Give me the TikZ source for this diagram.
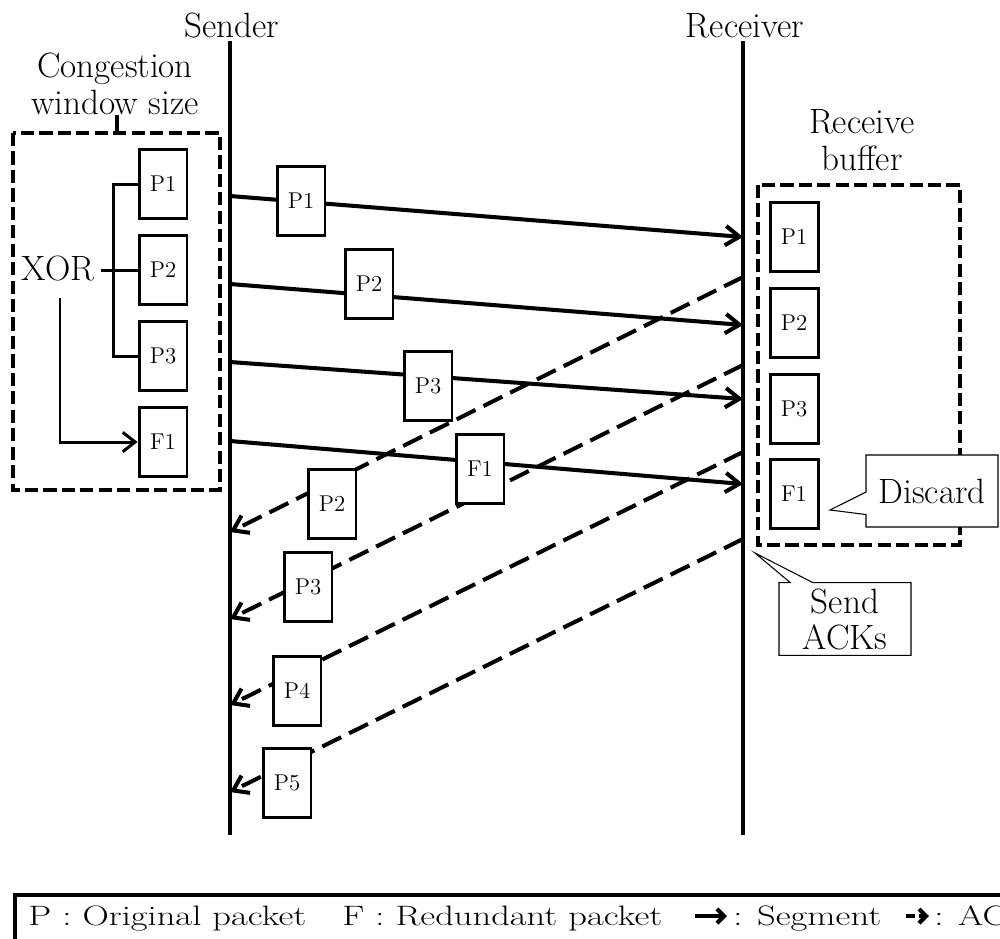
\documentclass[tikz,border=0pt]{standalone}
\usepackage{tikz}
\usetikzlibrary{arrows.meta, positioning, calc, shapes.callouts}

\newcommand{\legw}[1]{\scalebox{1.3}[1]{#1}}

\begin{document}
\begin{tikzpicture}[x=0.02cm, y=-0.02cm,
  lbl/.style={font=\fontsize{20}{21}\selectfont, align=center},
  pkt/.style={draw, line width=1.7pt, fill=white, inner sep=0pt,
    minimum width=0.96cm, minimum height=1.38cm, font=\fontsize{13}{14}\selectfont},
  lifeline/.style={line width=2.7pt},
  seg/.style={line width=2.3pt, -{Straight Barb[length=8pt,width=11pt]}},
  ack/.style={seg, dash pattern=on 12pt off 5pt},
  brk/.style={line width=1.7pt},
  winbox/.style={line width=2.7pt, dash pattern=on 7.5pt off 3pt},
  note/.style={rectangle callout, draw, line width=0.6pt, fill=white, align=center,
    minimum width=2.64cm, minimum height=1.44cm, callout pointer width=0.45cm,
    font=\fontsize{20}{20.5}\selectfont},
  legtxt/.style={font=\fontsize{16}{18}\selectfont, inner sep=0pt, anchor=base west},
  legarr/.style={line width=2.4pt, -{Straight Barb[length=4pt,width=8pt]}}]
  \useasboundingbox (0,0) rectangle (1000,938);
  \clip (0,0) rectangle (1000,938);

  % Sender and receiver
  \node[lbl, anchor=base] (snd) at (232,37) {Sender};
  \node[lbl, anchor=base] (rcv) at (745,37) {Receiver};
  \coordinate (sndtop) at (230,41);
  \coordinate (sndbot) at (230,835);
  \coordinate (rcvtop) at (743,41);
  \coordinate (rcvbot) at (743,835);
  \draw[lifeline] (sndtop) -- (sndbot);
  \draw[lifeline] (rcvtop) -- (rcvbot);

  % Congestion window
  \node[lbl, inner sep=0pt] (cws) at (115,84) {Congestion\\window size};
  \draw[winbox] (13,133) rectangle (220,490);
  \coordinate (tick) at (117,133);
  \draw[line width=2pt] (cws.south -| tick) -- (tick);
  \foreach \nm/\txt/\y in {lp1/P1/184, lp2/P2/270, lp3/P3/356, lf1/F1/442}
    \node[pkt] (\nm) at (163,\y) {\txt};

  % XOR coding
  \node[lbl, anchor=base] (xor) at (58,280) {XOR};
  \draw[brk] (lp2.west) -- (lp2.west -| xor.east);
  \draw[brk] (lp1.west) -- ++(-24,0) |- (lp3.west);
  \coordinate (xorfoot) at (60,298);
  \draw[brk, -{Straight Barb[length=7pt,width=11pt]}] (xorfoot) |- (lf1.west);

  % Segments
  \foreach \i/\ys/\yr in {1/196/237, 2/284/325, 3/362/399, 4/441/484}{
    \coordinate (s\i) at (230,\ys);
    \coordinate (r\i) at (743,\yr);
    \draw[seg] (s\i) -- (r\i);
  }

  % ACKs
  \foreach \i/\yr/\ys in {1/277/532, 2/365/619, 3/452/705, 4/539/792}{
    \coordinate (ar\i) at (743,\yr);
    \coordinate (as\i) at (230,\ys);
    \draw[ack] (ar\i) -- (as\i);
  }

  % Packets in flight
  \foreach \nm/\txt/\x/\y in {sp1/P1/301/201, sp2/P2/369/284, sp3/P3/428/386, sf1/F1/480/469,
                              ap2/P2/332/504, ap3/P3/308/587, ap4/P4/297/691, ap5/P5/287/783}
    \node[pkt] (\nm) at (\x,\y) {\txt};

  % Receive buffer
  \node[lbl, inner sep=0pt] (rbuf) at (862,140) {Receive\\buffer};
  \draw[winbox] (758,185) rectangle (960,545);
  \foreach \nm/\txt/\y in {rp1/P1/237, rp2/P2/323, rp3/P3/409, rf1/F1/494}
    \node[pkt] (\nm) at (794,\y) {\txt};

  % Notes
  \coordinate (droptip) at (830,510);
  \coordinate (acktip) at (755,553);
  \node[note, callout absolute pointer={(droptip)}] (discard) at (932,491) {Discard};
  \node[note, callout absolute pointer={(acktip)}] (sendack) at (845,619) {Send\\ACKs};

  % Legend
  \draw[line width=1.8pt] (1010,895) -- (15,895) -- (15,945);
  \node[legtxt] (lgp) at (28,925) {\legw{P : Original packet}};
  \node[legtxt] (lgf) at (342,925) {\legw{F : Redundant packet}};
  \node[legtxt] (lgs) at (733,925) {\legw{: Segment}};
  \node[legtxt] (lga) at (934,925) {\legw{: ACK}};
  \coordinate (lsa) at (695,916);
  \coordinate (lsb) at (727,916);
  \coordinate (laa) at (906,916);
  \coordinate (lab) at (929,916);
  \draw[legarr] (lsa) -- (lsb);
  \draw[legarr, dash pattern=on 5pt off 2.5pt] (laa) -- (lab);
\end{tikzpicture}
\end{document}
